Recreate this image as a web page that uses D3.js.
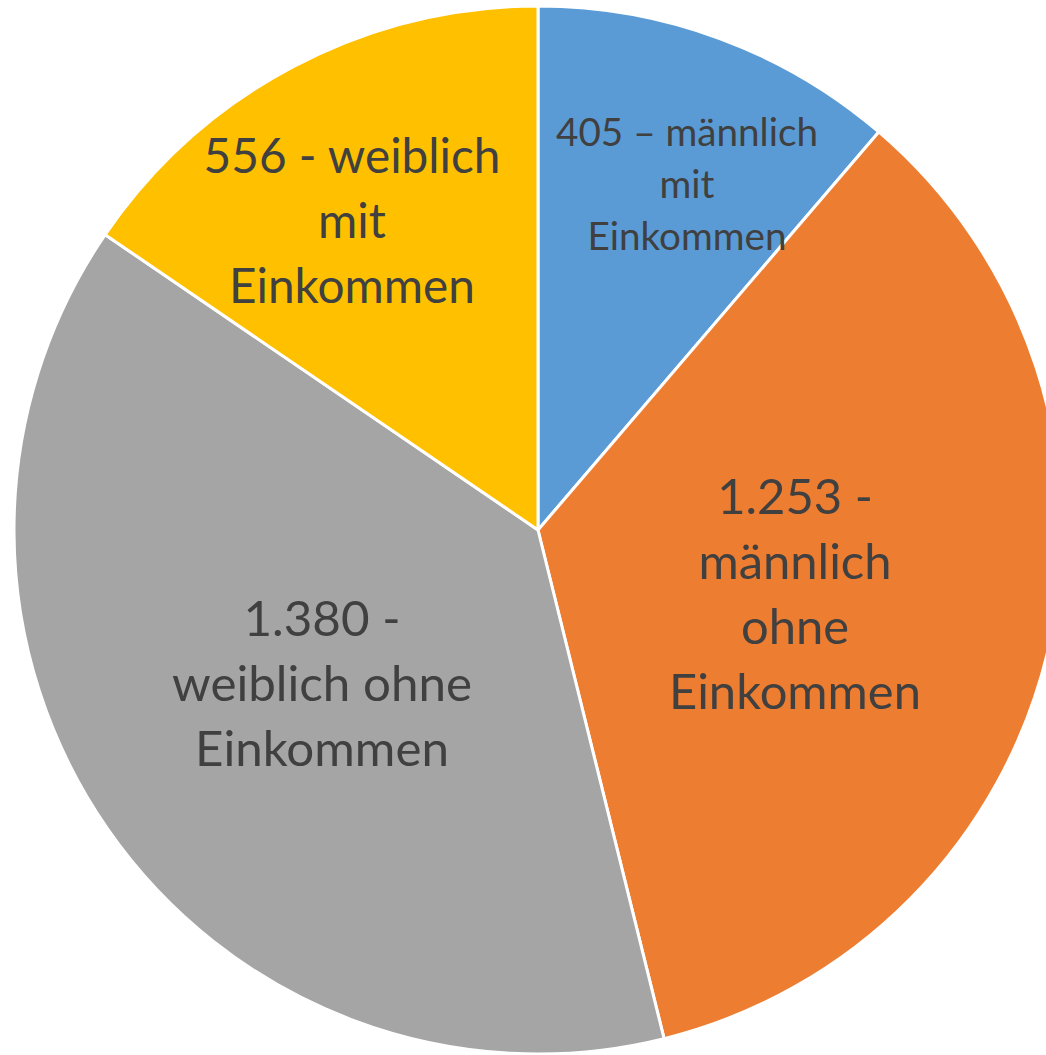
<!DOCTYPE html>
<html>
<head>
<meta charset="utf-8">
<script src="https://cdn.jsdelivr.net/npm/d3@7"></script>
<style>
  html, body { margin: 0; padding: 0; background: #fff; overflow: hidden; }
  svg { display: block; }
</style>
</head>
<body>
<svg id="chart" width="1046" height="1055"></svg>
<script>
// ---- data ----
const categories = ["männlich mit Einkommen", "männlich ohne Einkommen", "weiblich ohne Einkommen", "weiblich mit Einkommen"];
const values = [405, 1253, 1380, 556];
const labelLines = [
  ["405 – männlich", "mit", "Einkommen"],
  ["1.253 -", "männlich", "ohne", "Einkommen"],
  ["1.380 -", "weiblich ohne", "Einkommen"],
  ["556 - weiblich", "mit", "Einkommen"]
];
const colors = ["#5B9BD5", "#ED7D31", "#A5A5A5", "#FFC000"];

// ---- layout ----
const W = 1046, H = 1055;
const cx = 538, cy = 530, R = 524;
const labelLayout = [
  { x: 687, y: 146, lh: 52, fit: "405 – männlich", w: 262 },
  { x: 795, y: 514, lh: 65, fit: "Einkommen", w: 252 },
  { x: 322, y: 636, lh: 65, fit: "weiblich ohne", w: 300 },
  { x: 352, y: 173, lh: 65, fit: "556 - weiblich", w: 297 }
];
const fontFamily = "Lato, 'Open Sans', 'DejaVu Sans', sans-serif";

const svg = d3.select("#chart");
const g = svg.append("g").attr("transform", `translate(${cx},${cy})`);

const pie = d3.pie().sort(null).value(d => d).startAngle(0).endAngle(2 * Math.PI);
const arcs = pie(values);
const arc = d3.arc().innerRadius(0).outerRadius(R);

g.selectAll("path.slice")
  .data(arcs)
  .join("path")
  .attr("class", "slice")
  .attr("d", arc)
  .attr("fill", (d, i) => colors[i])
  .attr("stroke", "#fff")
  .attr("stroke-width", 3)
  .attr("stroke-linejoin", "round");

const measure = svg.append("text").attr("font-family", fontFamily).attr("font-size", 100).attr("visibility", "hidden");
function fitSize(str, w) {
  measure.text(str);
  const len = measure.node().getComputedTextLength();
  return 100 * w / len;
}

const labels = svg.append("g");
labelLines.forEach((lines, i) => {
  const L = labelLayout[i];
  const fs = fitSize(L.fit, L.w);
  const t = labels.append("text")
    .attr("font-family", fontFamily)
    .attr("font-size", fs.toFixed(2))
    .attr("fill", "#404040")
    .attr("text-anchor", "middle");
  lines.forEach((ln, j) => {
    t.append("tspan").attr("x", L.x).attr("y", L.y + j * L.lh).text(ln);
  });
});
measure.remove();
</script>
</body>
</html>
